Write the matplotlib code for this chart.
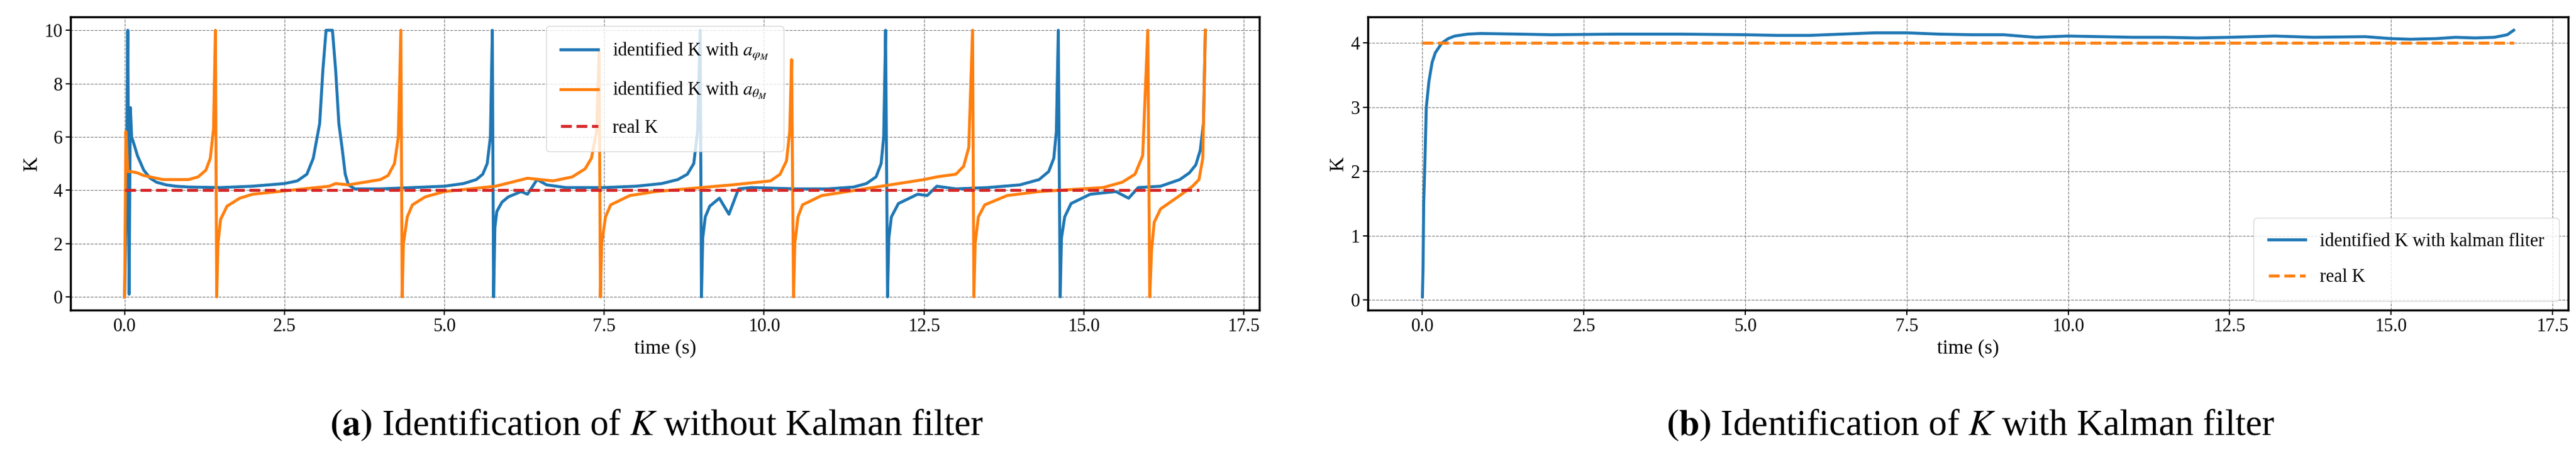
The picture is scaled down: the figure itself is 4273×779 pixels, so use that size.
import matplotlib
matplotlib.use("Agg")
import matplotlib.pyplot as plt

plt.rcParams['font.family'] = ['Liberation Serif', 'DejaVu Serif']
plt.rcParams['mathtext.fontset'] = 'stix'

# (a) identified K with a_phi
t_phi = [0.0, 0.03, 0.05, 0.07, 0.09, 0.11, 0.15, 0.2, 0.3, 0.4, 0.5, 0.65, 0.8, 1.0, 1.5, 2.0, 2.5, 2.7, 2.85, 2.95, 3.05, 3.1, 3.15, 3.25, 3.3, 3.35, 3.4, 3.45, 3.5, 3.6,
         4.0, 4.5, 5.0, 5.3, 5.5, 5.6, 5.67, 5.72, 5.75, 5.77, 5.79, 5.82, 5.9, 6.0, 6.2, 6.3, 6.45, 6.6, 6.9, 7.5, 8.0, 8.4, 8.65, 8.8, 8.9, 8.96, 9.0,
         9.02, 9.04, 9.08, 9.15, 9.3, 9.45, 9.6, 9.8, 10.5, 11.0, 11.4, 11.6, 11.75, 11.83, 11.87, 11.9, 11.93, 11.95, 11.99, 12.1, 12.4, 12.55, 12.7,
         13.0, 13.5, 14.0, 14.3, 14.45, 14.53, 14.57, 14.6, 14.63, 14.65, 14.7, 14.8, 15.1, 15.5, 15.7, 15.85, 16.2, 16.5, 16.65, 16.75, 16.82, 16.87, 16.9]
k_phi = [0.0, 4.0, 10.0, 0.1, 7.1, 6.0, 5.7, 5.3, 4.75, 4.45, 4.3, 4.2, 4.15, 4.12, 4.1, 4.15, 4.25, 4.35, 4.6, 5.2, 6.5, 8.5, 10.0, 10.0, 8.5, 6.5, 5.6, 4.6, 4.2, 4.05,
         4.05, 4.1, 4.15, 4.25, 4.4, 4.6, 5.0, 6.0, 10.0, 0.0, 2.6, 3.2, 3.55, 3.75, 3.95, 3.85, 4.4, 4.2, 4.1, 4.1, 4.15, 4.25, 4.4, 4.6, 5.0, 6.2, 10.0,
         0.0, 2.2, 3.0, 3.4, 3.7, 3.1, 4.05, 4.1, 4.05, 4.05, 4.12, 4.25, 4.5, 5.0, 6.0, 10.0, 0.0, 2.2, 3.0, 3.5, 3.85, 3.8, 4.15,
         4.05, 4.1, 4.2, 4.4, 4.7, 5.2, 6.2, 10.0, 0.0, 2.2, 3.0, 3.5, 3.85, 3.95, 3.7, 4.1, 4.15, 4.4, 4.65, 4.95, 5.5, 6.5, 10.0]

# (a) identified K with a_theta
t_th = [0.0, 0.02, 0.05, 0.1, 0.2, 0.3, 0.6, 1.0, 1.15, 1.27, 1.34, 1.39, 1.42, 1.44, 1.46, 1.5, 1.6, 1.8, 2.0, 3.0, 3.2, 3.3, 3.5, 4.0, 4.12, 4.22, 4.28, 4.32,
        4.34, 4.36, 4.42, 4.5, 4.7, 5.0, 5.8, 6.3, 6.5, 6.7, 7.0, 7.2, 7.3, 7.38, 7.42, 7.44, 7.46, 7.52, 7.6, 7.9, 8.3, 9.5, 10.1, 10.25, 10.35, 10.4, 10.43,
        10.46, 10.48, 10.53, 10.6, 10.9, 11.3, 12.5, 12.7, 13.0, 13.12, 13.2, 13.26, 13.28, 13.3, 13.35, 13.45, 13.8, 14.3, 15.3, 15.6, 15.8, 15.92, 16.0, 16.03,
        16.06, 16.1, 16.2, 16.5, 16.7, 16.8, 16.86, 16.9]
k_th = [0.0, 6.2, 4.7, 4.7, 4.65, 4.55, 4.4, 4.4, 4.5, 4.75, 5.2, 6.3, 10.0, 0.0, 2.0, 2.9, 3.4, 3.7, 3.85, 4.1, 4.15, 4.25, 4.2, 4.4, 4.55, 5.0, 6.0, 10.0,
        0.0, 2.0, 3.0, 3.45, 3.75, 3.95, 4.15, 4.45, 4.4, 4.35, 4.5, 4.8, 5.2, 6.2, 9.2, 0.0, 2.0, 3.0, 3.45, 3.8, 3.95, 4.2, 4.35, 4.6, 5.1, 6.2, 8.9,
        0.0, 2.0, 3.0, 3.45, 3.8, 3.95, 4.4, 4.5, 4.6, 4.9, 5.6, 10.0, 0.0, 2.0, 3.0, 3.45, 3.8, 3.95, 4.1, 4.3, 4.6, 5.3, 10.0, 0.0,
        1.8, 2.8, 3.3, 3.8, 4.15, 4.4, 5.2, 10.0]

real_t = [0.0, 16.8]
real_k = [4.0, 4.0]

# (b) identified K with kalman filter
t_kal = [0.0, 0.01, 0.02, 0.04, 0.06, 0.1, 0.15, 0.2, 0.3, 0.4, 0.5, 0.7, 0.9, 1.5, 2.0, 3.0, 4.0, 5.0, 5.5, 6.0, 6.5, 7.0,
         7.5, 8.0, 8.5, 9.0, 9.5, 10.0, 10.5, 11.0, 11.5, 12.0, 12.5, 13.2, 13.8, 14.6, 15.0, 15.3, 15.7, 16.0, 16.3, 16.6, 16.8, 16.9]
k_kal = [0.05, 0.5, 1.5, 2.2, 3.0, 3.4, 3.7, 3.85, 4.0, 4.07, 4.11, 4.14, 4.15, 4.14, 4.13, 4.14, 4.14, 4.13, 4.12, 4.12, 4.14, 4.16,
         4.16, 4.14, 4.13, 4.13, 4.09, 4.11, 4.10, 4.09, 4.09, 4.08, 4.09, 4.11, 4.09, 4.10, 4.07, 4.06, 4.07, 4.09, 4.08, 4.09, 4.13, 4.2]
real_t_b = [0.0, 16.9]
real_k_b = [4.0, 4.0]

fig = plt.figure(figsize=(42.73, 7.79), dpi=100)
ax1 = fig.add_axes([0.0274, 0.34, 0.4615, 0.624])
ax2 = fig.add_axes([0.531, 0.34, 0.466, 0.624])

blue, orange, red = '#1f77b4', '#ff7f0e', '#d62728'

ax1.plot(t_phi, k_phi, color=blue, lw=3.5, label=r'identified K with $a_{\varphi_M}$')
ax1.plot(t_th, k_th, color=orange, lw=3.5, label=r'identified K with $a_{\theta_M}$')
ax1.plot(real_t, real_k, color=red, lw=3.5, ls='--', label='real K')
ax1.set_yticks([0, 2, 4, 6, 8, 10])
ax1.legend(loc='upper center', fontsize=22, framealpha=0.8, borderpad=0.8, labelspacing=1.0)

ax2.plot(t_kal, k_kal, color=blue, lw=3.5, label='identified K with kalman fliter')
ax2.plot(real_t_b, real_k_b, color=orange, lw=3.5, ls='--', label='real K')
ax2.set_yticks([0, 1, 2, 3, 4])
ax2.legend(loc='lower right', fontsize=22, framealpha=0.8, borderpad=0.8, labelspacing=1.0)

for ax in (ax1, ax2):
    ax.set_xticks([0, 2.5, 5, 7.5, 10, 12.5, 15, 17.5])
    ax.set_xticklabels(['0.0', '2.5', '5.0', '7.5', '10.0', '12.5', '15.0', '17.5'])
    ax.grid(True, ls='--', color='gray', lw=0.9)
    ax.tick_params(labelsize=22, width=1.5, length=6)
    ax.set_xlabel('time (s)', fontsize=24)
    ax.set_ylabel('K', fontsize=24)
    for s in ax.spines.values():
        s.set_linewidth(2.5)

fig.text(0.255, 0.075, r'$\mathbf{(a)}$ Identification of $K$ without Kalman filter', ha='center', fontsize=44)
fig.text(0.765, 0.075, r'$\mathbf{(b)}$ Identification of $K$ with Kalman filter', ha='center', fontsize=44)

fig.savefig('out.png', dpi=100)
